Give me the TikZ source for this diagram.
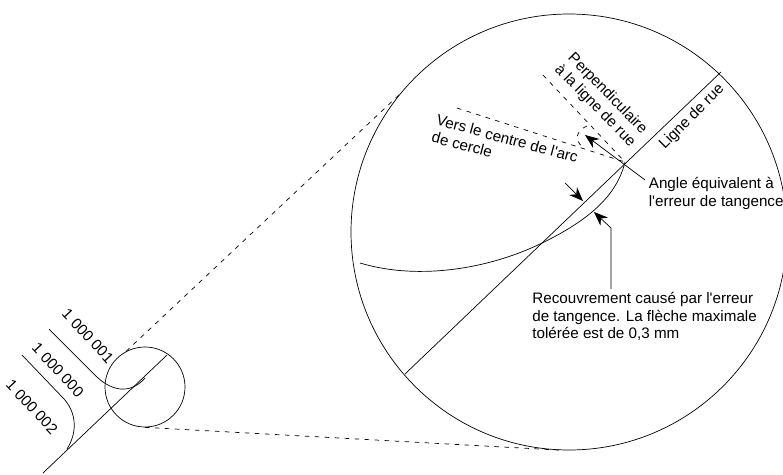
\documentclass[tikz,border=0pt]{standalone}
\usepackage{fontspec}
\setmainfont{Liberation Sans}
\usetikzlibrary{arrows.meta}
\tikzset{
  lbl/.style={inner sep=0pt, font=\fontsize{15.2}{17.5}\selectfont},
  rim/.style={circle, draw, inner sep=0pt},
  tick/.style={-{Stealth[length=14pt,width=11pt]}},
  hint/.style={dashed, dash pattern=on 4.5pt off 5.5pt}
}
\begin{document}
\begin{tikzpicture}[x=1pt, y=-1pt, line width=0.7pt]
\useasboundingbox (0,0) rectangle (783,474);

\node (big) [rim, minimum size=436pt] at (569,232) {};
\node (small) [rim, minimum size=80pt] at (145,387) {};

\node (n1) [lbl, rotate=-47] at (88,336) {1 000 001};
\node (n0) [lbl, rotate=-47] at (58,370) {1 000 000};
\node (n2) [lbl, rotate=-47] at (32,407) {1 000 002};
\node (perp) [lbl, rotate=-45.5, align=center] at (601,100) {Perpendiculaire\\à la ligne de rue};
\node (rue) [lbl, rotate=45] at (692,117) {Ligne de rue};
\node (vers) [lbl, rotate=-15, align=left] at (505,147) {Vers le centre de l\textquotesingle arc\\de cercle};
\node (angle) [lbl, align=left, anchor=north west] at (648.5,177) {Angle équivalent à\\l\textquotesingle erreur de tangence};
\node (recouv) [lbl, align=left, anchor=north west] at (532,292) {Recouvrement causé par l\textquotesingle erreur\\de tangence. La flèche maximale\\tolérée est de 0,3 mm};

\coordinate (a) at (721,72);
\coordinate (b) at (405,374);
\coordinate (c) at (167,355);
\coordinate (d) at (43,473);
\coordinate (t) at (625,162);

% main lines
\draw (a) -- (b);
\draw (c) -- (d);

% curves
\draw (360,263) .. controls (420,281) and (490,268) .. (540,244)
  .. controls (590,220) and (617,195) .. (t);
\draw (49,329) -- (92,372) .. controls (110,392) and (130,395) .. (145,378);
\draw (22,355) -- (65,400) .. controls (78,416) and (76,435) .. (67,449);

% dashed
\draw [hint] (small.118) -- (big.141);
\draw [hint] (small.south) -- (big.268);
\draw [hint] (543,75) -- (t);
\draw [hint] (457,108) -- (t);
\draw [hint] (587,126) .. controls (577,130) and (573,140) .. (583,147);

% arrows
\draw [tick] (645,180) -- (585,135);
\draw [tick] (565,183) -- (583,201);
\draw [tick] (611,289) -- (611,228) -- (594,212);
\end{tikzpicture}
\end{document}
